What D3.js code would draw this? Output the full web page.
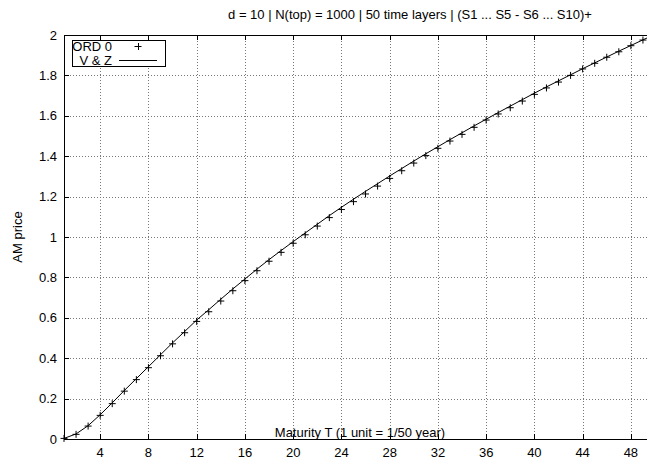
<!DOCTYPE html>
<html lang="en">
  <head>
    <meta charset="UTF-8" />
    <title>AM price</title>
    <script src="https://cdn.jsdelivr.net/npm/d3@7"></script>
    <style>
      body { margin: 0; background: #fff; }
      text { font-family: "Liberation Sans", Arial, sans-serif; font-size: 13px; fill: #000; }
    </style>
  </head>
  <body>
    <svg width="647" height="460"></svg>
    <script>
      // data
      var ordT = [1, 2, 3, 4, 5, 6, 7, 8, 9, 10, 11, 12, 13, 14, 15, 16, 17, 18, 19, 20,
        21, 22, 23, 24, 25, 26, 27, 28, 29, 30, 31, 32, 33, 34, 35, 36, 37, 38, 39, 40,
        41, 42, 43, 44, 45, 46, 47, 48, 49];
      var ord0 = [0.003, 0.023, 0.064, 0.117, 0.175, 0.237, 0.294, 0.353, 0.412, 0.471,
        0.526, 0.582, 0.630, 0.683, 0.734, 0.784, 0.833, 0.880, 0.924, 0.969,
        1.011, 1.054, 1.096, 1.136, 1.175, 1.213, 1.252, 1.290, 1.328, 1.366,
        1.403, 1.439, 1.475, 1.508, 1.543, 1.579, 1.609, 1.640, 1.673, 1.706,
        1.738, 1.767, 1.800, 1.832, 1.860, 1.890, 1.917, 1.947, 1.975];
      var vzT = [1, 2, 3, 4, 5, 6, 7, 8, 9, 10, 11, 12, 13, 14, 15, 16, 17, 18, 19, 20,
        21, 22, 23, 24, 25, 26, 27, 28, 29, 30, 31, 32, 33, 34, 35, 36, 37, 38, 39, 40,
        41, 42, 43, 44, 45, 46, 47, 48, 49, 50];
      var vz = [0.003, 0.025, 0.066, 0.120, 0.179, 0.240, 0.299, 0.358, 0.417, 0.476,
        0.532, 0.589, 0.640, 0.692, 0.743, 0.792, 0.841, 0.888, 0.933, 0.977,
        1.020, 1.063, 1.106, 1.147, 1.187, 1.226, 1.264, 1.302, 1.339, 1.376,
        1.412, 1.447, 1.482, 1.516, 1.550, 1.583, 1.616, 1.648, 1.680, 1.712,
        1.743, 1.773, 1.803, 1.833, 1.862, 1.891, 1.920, 1.948, 1.976, 2.003];
      var xTicks = [4, 8, 12, 16, 20, 24, 28, 32, 36, 40, 44, 48];
      var yTicks = [0, 0.2, 0.4, 0.6, 0.8, 1, 1.2, 1.4, 1.6, 1.8, 2];

      var plotL = 64, plotR = 655, plotT = 35, plotB = 439;
      var tickLen = 5;

      var x = d3.scaleLinear().domain([1, 50]).range([plotL, plotR]);
      var y = d3.scaleLinear().domain([0, 2]).range([plotB, plotT]);

      const svg = d3.select("svg");

      // clip so the curve stops at the frame
      svg.append("clipPath").attr("id", "clip")
        .append("rect")
        .attr("x", plotL).attr("y", plotT)
        .attr("width", plotR - plotL).attr("height", plotB - plotT);

      // dotted grid
      const grid = svg.append("g")
        .attr("stroke", "#777")
        .attr("stroke-width", 1)
        .attr("stroke-dasharray", "1,2")
        .attr("shape-rendering", "crispEdges");
      grid.selectAll(".gx")
        .data(xTicks)
        .enter()
        .append("line")
        .attr("x1", d => Math.round(x(d)) + 0.5)
        .attr("x2", d => Math.round(x(d)) + 0.5)
        .attr("y1", plotT)
        .attr("y2", plotB);
      grid.selectAll(".gy")
        .data(yTicks.slice(1, -1))
        .enter()
        .append("line")
        .attr("x1", plotL)
        .attr("x2", plotR)
        .attr("y1", d => Math.round(y(d)) + 0.5)
        .attr("y2", d => Math.round(y(d)) + 0.5);

      // axes with inward ticks (bottom, top mirror, left)
      const xAxis = d3.axisTop(x).tickValues(xTicks).tickSize(tickLen).tickFormat("");
      const xAxisTop = d3.axisBottom(x).tickValues(xTicks).tickSize(tickLen).tickFormat("");
      const yAxis = d3.axisRight(y).tickValues(yTicks).tickSize(tickLen).tickFormat("");

      svg.append("g").attr("transform", `translate(0,${plotB})`).call(xAxis);
      svg.append("g").attr("transform", `translate(0,${plotT})`).call(xAxisTop);
      svg.append("g").attr("transform", `translate(${plotL},0)`).call(yAxis);
      svg.selectAll(".domain").remove();
      svg.selectAll(".tick text").remove();
      svg.selectAll(".tick line").attr("stroke", "#000").attr("shape-rendering", "crispEdges");

      // frame (right side lies beyond the picture)
      svg.append("path")
        .attr("d", `M${plotR},${plotT + 0.5}H${plotL + 0.5}V${plotB + 0.5}H${plotR}`)
        .attr("fill", "none")
        .attr("stroke", "#000")
        .attr("shape-rendering", "crispEdges");

      // tick labels
      svg.append("g").selectAll("text")
        .data(xTicks)
        .enter()
        .append("text")
        .attr("x", d => x(d))
        .attr("y", plotB + 18)
        .attr("text-anchor", "middle")
        .text(d => d);
      svg.append("g").selectAll("text")
        .data(yTicks)
        .enter()
        .append("text")
        .attr("x", plotL - 7)
        .attr("y", d => y(d) + 4.5)
        .attr("text-anchor", "end")
        .text(d => d);

      // titles
      svg.append("text")
        .attr("x", 410)
        .attr("y", 19)
        .attr("text-anchor", "middle")
        .text("d = 10 | N(top) = 1000 | 50 time layers | (S1 ... S5 - S6 ... S10)+");
      svg.append("text")
        .attr("x", 360)
        .attr("y", 437)
        .attr("text-anchor", "middle")
        .text("Maturity T (1 unit = 1/50 year)");
      svg.append("text")
        .attr("transform", `translate(22,${(plotT + plotB) / 2}) rotate(-90)`)
        .attr("text-anchor", "middle")
        .text("AM price");

      // V & Z curve
      const line = d3.line()
        .x((d, i) => x(vzT[i]))
        .y(d => y(d));
      svg.append("path")
        .datum(vz)
        .attr("clip-path", "url(#clip)")
        .attr("d", line)
        .attr("fill", "none")
        .attr("stroke", "#000")
        .attr("stroke-width", 1);

      // ORD 0 points as plus marks
      const r = 3.5;
      svg.append("g")
        .attr("stroke", "#000")
        .attr("stroke-width", 1)
        .selectAll("path")
        .data(ord0)
        .enter()
        .append("path")
        .attr("d", (d, i) => {
          var cx = x(ordT[i]), cy = y(d);
          return `M${cx - r},${cy}H${cx + r}M${cx},${cy - r}V${cy + r}`;
        });

      // legend
      const lg = svg.append("g");
      lg.append("rect")
        .attr("x", 72.5).attr("y", 40.5)
        .attr("width", 93).attr("height", 26)
        .attr("fill", "#fff")
        .attr("stroke", "#000");
      lg.append("text").attr("x", 112).attr("y", 50.5).attr("text-anchor", "end").text("ORD 0");
      lg.append("text").attr("x", 112).attr("y", 64.5).attr("text-anchor", "end").text("V & Z");
      lg.append("path")
        .attr("d", `M${138 - r},46.5H${138 + r}M138.5,${46.5 - r}V${46.5 + r}`)
        .attr("stroke", "#000");
      lg.append("path")
        .attr("d", "M119,60.5H157")
        .attr("stroke", "#000");
    </script>
  </body>
</html>
